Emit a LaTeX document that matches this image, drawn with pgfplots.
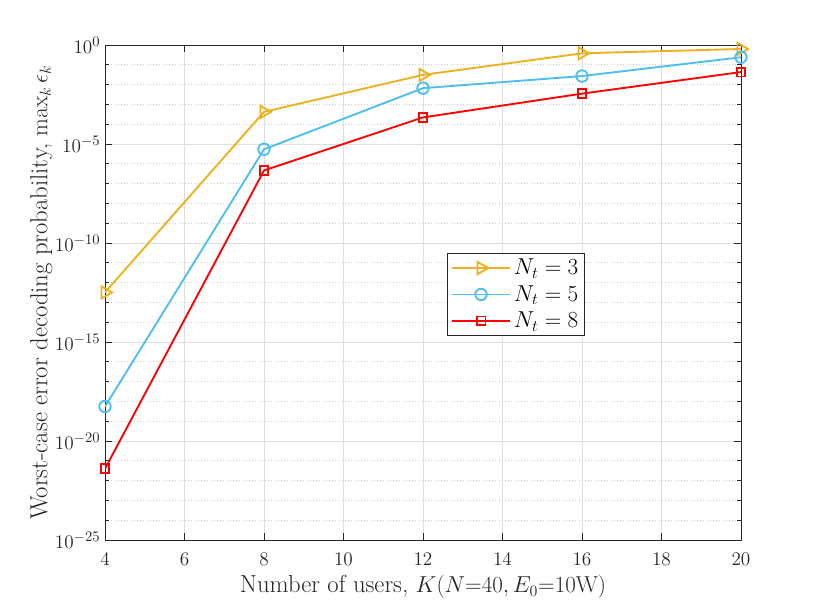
\documentclass[border=0pt]{standalone}
\usepackage{pgfplots}
\pgfplotsset{compat=1.18}
\definecolor{myyellow}{rgb}{0.929,0.694,0.125}
\definecolor{myblue}{rgb}{0.302,0.745,0.933}
\definecolor{myred}{rgb}{1,0,0}
\definecolor{axcol}{rgb}{0.15,0.15,0.15}
\definecolor{gridcol}{rgb}{0.87,0.87,0.87}
\begin{document}
\begin{tikzpicture}
\useasboundingbox (0,0) rectangle (610.5pt,457.5pt);
\begin{axis}[
  at={(78.75pt,52.5pt)}, anchor=south west,
  scale only axis, width=477pt, height=371.25pt,
  ymode=log, log basis y=10,
  xmin=4, xmax=20, ymin=1e-25, ymax=1,
  xtick={4,6,...,20},
  ytick={1e-25,1e-20,1e-15,1e-10,1e-5,1},
  minor ytick={1e-24,1e-23,1e-22,1e-21,1e-19,1e-18,1e-17,1e-16,1e-14,1e-13,1e-12,1e-11,1e-9,1e-8,1e-7,1e-6,1e-4,1e-3,1e-2,1e-1},
  grid=both,
  major grid style={gridcol, line width=0.5pt},
  minor grid style={gray!40, dotted, line width=0.5pt},
  axis line style={axcol, line width=0.5pt},
  tick style={axcol, line width=0.5pt},
  major tick length=5pt, minor tick length=3pt,
  tick align=inside,
  ticklabel style={font=\fontsize{15.5}{18}\selectfont, text=axcol},
  xticklabel shift=6pt,
  xlabel={Number of users, $K(N{=}40,E_0{=}10\mathrm{W})$},
  ylabel={Worst-case error decoding probability, $\max_k \epsilon_k$},
  label style={font=\fontsize{18.5}{21}\selectfont, text=axcol},
  xlabel style={yshift=-1pt},
  ylabel style={yshift=-5pt},
  legend style={at={(0.538,0.58)}, anchor=north west, draw=axcol,
    font=\fontsize{18}{21}\selectfont, inner sep=2.5pt, row sep=2.5pt, cells={anchor=west}},
  legend image code/.code={\draw[mark=none] (0pt,0pt) -- (44pt,0pt); \draw plot coordinates {(22pt,0pt)};},
]
\addplot[myyellow, line width=1.4pt, mark=triangle, mark size=5.3pt, mark options={rotate=-90, solid, fill=none, line width=1.4pt}]
 coordinates {(4,3.2e-13) (8,4.2e-4) (12,3.1e-2) (16,0.38) (20,0.63)};
\addlegendentry{$N_t = 3$}
\addplot[myblue, line width=1.4pt, mark=o, mark size=4.3pt, mark options={solid, line width=1.4pt}]
 coordinates {(4,5.5e-19) (8,5.4e-6) (12,6.6e-3) (16,2.7e-2) (20,0.24)};
\addlegendentry{$N_t = 5$}
\addplot[myred, line width=1.4pt, mark=square, mark size=3.3pt, mark options={solid, line width=1.4pt}]
 coordinates {(4,4.0e-22) (8,4.6e-7) (12,2.2e-4) (16,3.5e-3) (20,4.3e-2)};
\addlegendentry{$N_t = 8$}
\end{axis}
\end{tikzpicture}
\end{document}
